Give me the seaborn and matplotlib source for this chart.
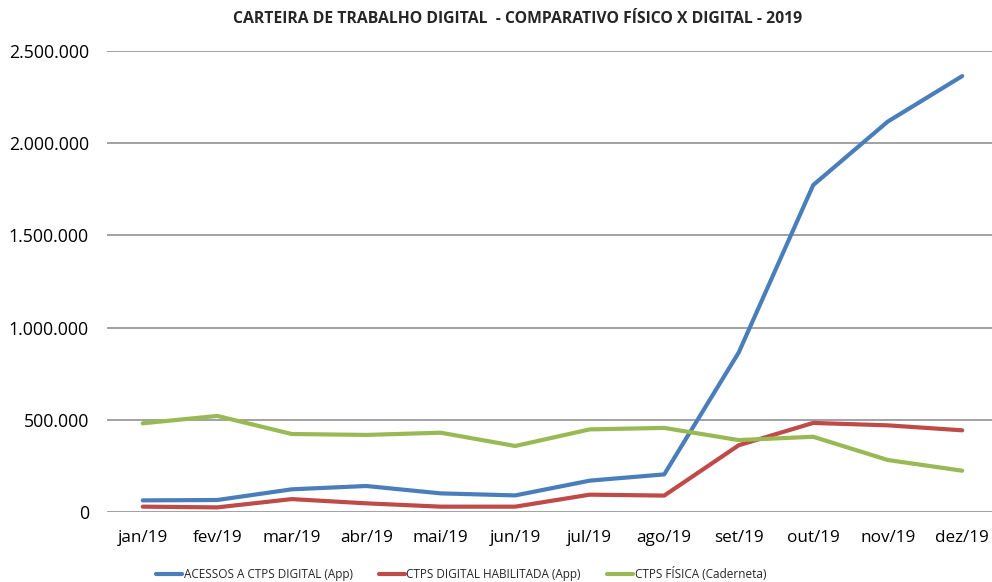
import matplotlib
matplotlib.use('Agg')
import matplotlib.pyplot as plt
import matplotlib.ticker as mticker
import pandas as pd
import seaborn as sns
from matplotlib import font_manager


months = ['jan/19', 'fev/19', 'mar/19', 'abr/19', 'mai/19', 'jun/19',
          'jul/19', 'ago/19', 'set/19', 'out/19', 'nov/19', 'dez/19']

acessos_app = [63000, 65000, 123000, 141000, 101000, 90000,
               170000, 204000, 865000, 1773000, 2117000, 2364000]
habilitada_app = [29000, 25000, 70000, 47000, 29000, 29000,
                  94000, 89000, 362000, 483000, 470000, 443000]
fisica = [481000, 521000, 423000, 418000, 430000, 358000,
          448000, 456000, 390000, 408000, 282000, 224000]

series_names = ['ACESSOS A CTPS DIGITAL (App)',
                'CTPS DIGITAL HABILITADA (App)',
                'CTPS FÍSICA (Caderneta)']
colors = ['#4a7ebb', '#be4b48', '#98b954']


def pick_font() -> str:
  names = {f.name for f in font_manager.fontManager.ttflist}
  for name in ['Liberation Sans Narrow', 'Open Sans', 'Liberation Sans']:
    if name in names:
      return name
  return 'DejaVu Sans'


def build_frame() -> pd.DataFrame:
  rows = []
  for name, values in zip(series_names, [acessos_app, habilitada_app, fisica]):
    for i, v in enumerate(values):
      rows.append({'mes': i, 'valor': v, 'serie': name})
  return pd.DataFrame(rows)


def main() -> None:
  sns.set_style('white')
  font = pick_font()
  plt.rcParams['font.family'] = [font, 'DejaVu Sans']

  df = build_frame()

  fig = plt.figure(figsize=(9.92, 5.82), dpi=100)
  ax = fig.add_axes([107 / 992, 1 - 512 / 582, 885 / 992, 461 / 582])

  sns.lineplot(data=df, x='mes', y='valor', hue='serie', hue_order=series_names,
               palette=colors, linewidth=3.0, ax=ax, legend=True)

  ax.set_xlim(-0.48, 11.40)
  ax.set_ylim(0, 2500000)
  ax.set_yticks(range(0, 2500001, 500000))
  ax.yaxis.set_major_formatter(mticker.FuncFormatter(
    lambda v, p: f'{int(v):,}'.replace(',', '.')))
  ax.set_xticks(range(len(months)))
  ax.set_xticklabels(months)
  ax.tick_params(axis='both', length=0, labelcolor='#000000')
  ax.tick_params(axis='x', pad=13, labelsize=12.3)
  ax.tick_params(axis='y', pad=13, labelsize=12.8)
  ax.grid(axis='y', color='#9a9a9a', linewidth=1.3)
  ax.set_axisbelow(True)
  for s in ax.spines.values():
    s.set_visible(False)
  ax.set_xlabel('')
  ax.set_ylabel('')

  fig.text(0.522, 0.967, 'CARTEIRA DE TRABALHO DIGITAL  - COMPARATIVO FÍSICO X DIGITAL - 2019',
           ha='center', va='center', fontsize=11.3, fontweight='bold')

  handles, labels = ax.get_legend_handles_labels()
  ax.legend(handles, labels, loc='center', bbox_to_anchor=(461 / 992, 1 - 574 / 582),
            bbox_transform=fig.transFigure, ncol=3, frameon=False, fontsize=8.5,
            handlelength=2.2, handletextpad=0.15, columnspacing=2.2,
            borderpad=0.0)

  fig.savefig('out.png', dpi=100)


if __name__ == '__main__':
  main()
